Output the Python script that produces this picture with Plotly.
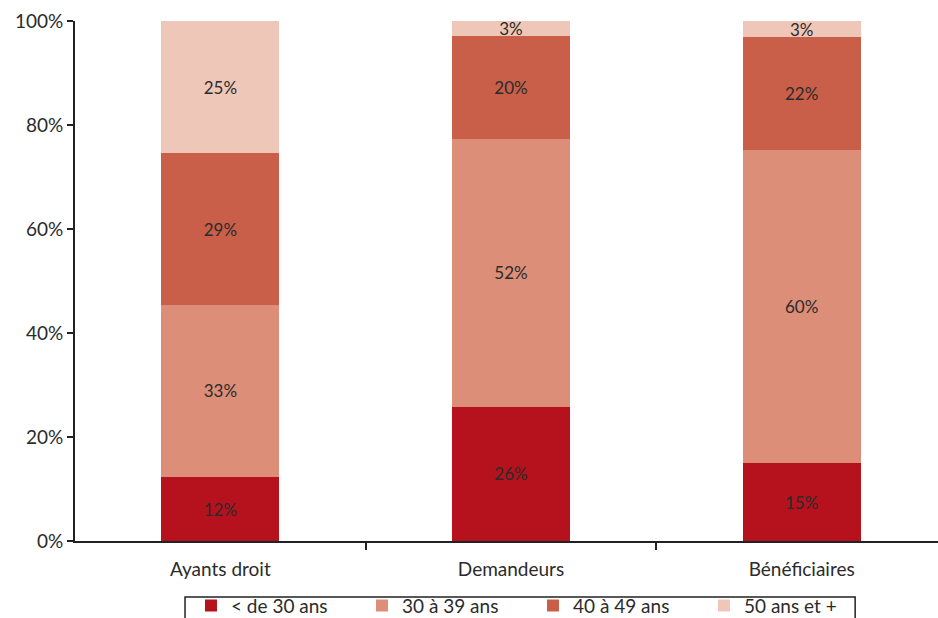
import plotly.graph_objects as go

# Population groups (x axis)
categories = ["Ayants droit", "Demandeurs", "Bénéficiaires"]

# Age bands and their share (%) in each group
age_bands = ["< de 30 ans", "30 à 39 ans", "40 à 49 ans", "50 ans et +"]
under_30 = [12.3, 25.8, 15.0]
age_30_39 = [33.1, 51.6, 60.2]
age_40_49 = [29.2, 19.7, 21.7]
age_50_plus = [25.4, 2.9, 3.1]

y_ticks = [0, 20, 40, 60, 80, 100]

series = [under_30, age_30_39, age_40_49, age_50_plus]
colors = ["#B5121E", "#DC8E78", "#C95E49", "#EFC7B9"]

FONT = "Lato"
TEXT = "#2b2b2b"
LINE = "#222222"

fig = go.Figure()
x_pos = list(range(len(categories)))
for name, vals, col in zip(age_bands, series, colors):
    fig.add_trace(go.Bar(
        x=x_pos,
        y=vals,
        name=name,
        marker=dict(color=col, line=dict(width=0)),
        width=0.405,
        text=[f"{round(v)}%" for v in vals],
        textposition="inside",
        insidetextanchor="middle",
        constraintext="none",
        textfont=dict(family=FONT, size=17, color=TEXT),
        hoverinfo="skip",
    ))

# Frame around the legend, open at the bottom edge of the page
fig.add_shape(
    type="rect", xref="paper", yref="paper",
    x0=0.1275, x1=0.904, y0=-0.3, y1=-0.1077,
    line=dict(color=LINE, width=1.5),
    fillcolor="rgba(0,0,0,0)",
    layer="above",
)

fig.update_layout(
    barmode="stack",
    width=938,
    height=618,
    margin=dict(l=75, r=0, t=21, b=77, autoexpand=False),
    paper_bgcolor="white",
    plot_bgcolor="white",
    font=dict(family=FONT, color=TEXT),
    showlegend=True,
    legend=dict(
        orientation="h",
        x=0.1344,
        xanchor="left",
        y=-0.088,
        yanchor="top",
        borderwidth=0,
        bgcolor="rgba(0,0,0,0)",
        font=dict(family=FONT, size=19, color=TEXT),
        entrywidth=126,
        itemwidth=30,
        traceorder="normal",
    ),
)

fig.update_xaxes(
    range=[-0.5, 2.469],
    tickmode="array",
    tickvals=x_pos,
    ticktext=categories,
    ticks="",
    ticklabelstandoff=10,
    tickfont=dict(family=FONT, size=19, color=TEXT),
    showline=True,
    linecolor=LINE,
    linewidth=2,
    showgrid=False,
    zeroline=False,
    minor=dict(
        tickmode="array",
        tickvals=[0.5, 1.5],
        ticks="outside",
        ticklen=7,
        tickwidth=2,
        tickcolor=LINE,
        showgrid=False,
    ),
)

fig.update_yaxes(
    range=[0, 100],
    tickmode="array",
    tickvals=y_ticks,
    ticktext=[f"{v}%" for v in y_ticks],
    ticks="outside",
    ticklen=6,
    tickwidth=2,
    tickcolor=LINE,
    tickfont=dict(family=FONT, size=19, color=TEXT),
    showline=True,
    linecolor=LINE,
    linewidth=2,
    showgrid=False,
    zeroline=False,
)

fig.write_html("out.html")
